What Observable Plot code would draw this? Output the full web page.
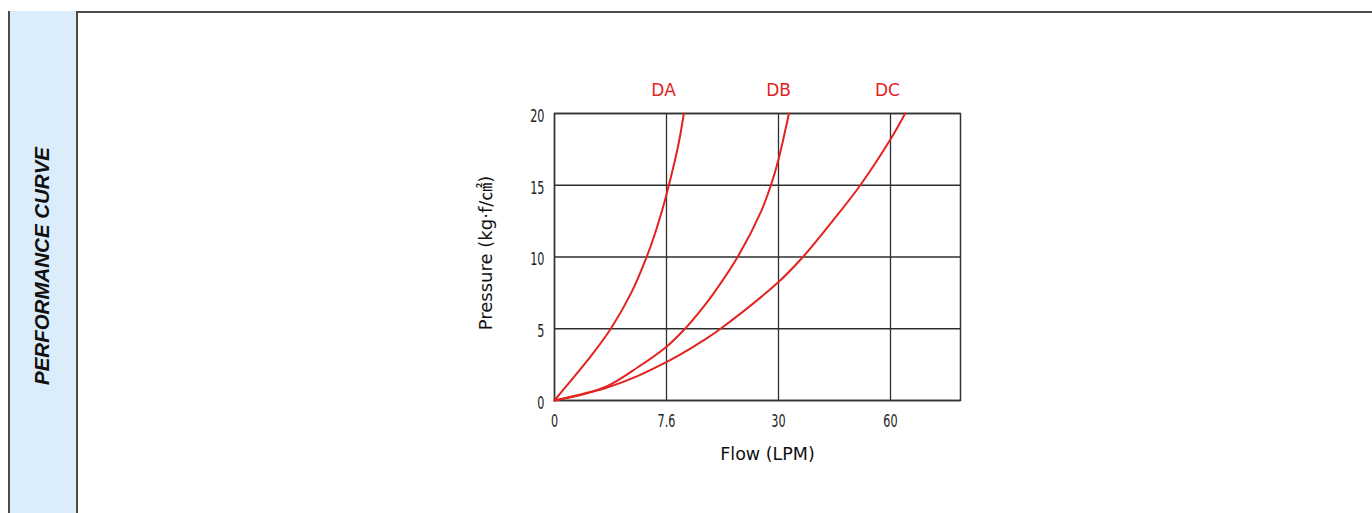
<!DOCTYPE html>
<html>
<head>
<meta charset="utf-8">
<script src="https://cdn.jsdelivr.net/npm/d3@7"></script>
<script src="https://cdn.jsdelivr.net/npm/@observablehq/plot@0.6"></script>
<style>
  html, body { margin: 0; padding: 0; background: #fff; }
  #wrap { position: relative; width: 1372px; height: 513px; overflow: hidden; }
  #topline { position: absolute; left: 8px; top: 11px; width: 1364px; height: 2px; background: #4e4c46; }
  #panel { position: absolute; left: 8px; top: 11px; width: 66px; height: 520px; background: #dbedfb;
           border-left: 2px solid #4e4c46; border-right: 2px solid #4e4c46; }
  #ptitle { position: absolute; left: 42px; top: 266px; transform: translate(-50%, -50%) rotate(-90deg);
            font-family: "Liberation Sans", Arial, sans-serif; font-weight: bold; font-style: italic;
            font-size: 20.5px; color: #111; white-space: nowrap; }
  #chart { position: absolute; left: 0; top: 0; }
</style>
</head>
<body>
<div id="wrap">
  <div id="topline"></div>
  <div id="panel"></div>
  <div id="ptitle">PERFORMANCE CURVE</div>
  <div id="chart"></div>
</div>
<script>
// ---- data ----
const flowTicks = [0, 7.6, 30, 60];
const flowBreaks = [0, 7.6, 30, 60, 78.75];   // axis breakpoints (equally spaced on the chart), last = right edge
const flowSteps = [0, 1, 2, 3, 3.625];        // relative position of each breakpoint
const pressureTicks = [0, 5, 10, 15, 20];
const seriesNames = ["DA", "DB", "DC"];
const labelFlow = [7.4, 30, 59.2];

const daFlow = [0, 1.0, 2.51, 3.82, 5.23, 6.27, 6.76, 7.29, 7.6, 9.93, 11.07];
const daPressure = [0, 1.25, 3.15, 5, 7.55, 10.05, 11.45, 13.2, 14.35, 17.75, 20];

const dbFlow = [0, 1.9, 3.57, 5.63, 7.6, 11.3, 15.15, 17.21, 22.0, 26.55, 28.48, 30, 32.79];
const dbPressure = [0, 0.45, 1.0, 2.3, 3.75, 5, 6.6, 7.55, 10.1, 13.2, 15, 16.8, 20];

const dcFlow = [0, 1.9, 3.57, 5.63, 7.6, 10.33, 15.15, 18.49, 30, 36.54, 44.31, 51.9, 60, 63.93];
const dcPressure = [0, 0.42, 0.9, 1.7, 2.68, 3.19, 4.22, 5.02, 8.26, 10, 12.45, 15, 18.2, 20];

// ---- build table ----
const seriesFlow = [daFlow, dbFlow, dcFlow];
const seriesPressure = [daPressure, dbPressure, dcPressure];
const rows = seriesNames.flatMap((name, i) =>
  seriesFlow[i].map((f, j) => ({series: name, flow: f, pressure: seriesPressure[i][j]})));
const labels = seriesNames.map((name, i) => ({series: name, flow: labelFlow[i], pressure: 20}));

// piecewise (broken) flow axis: 0, 7.6, 30, 60 equally spaced
const flowToStep = d3.scaleLinear().domain(flowBreaks).range(flowSteps);

const red = "#e2231f";
const gridColor = "#2e2e2e";
const sans = "'DejaVu Sans', Verdana, sans-serif";

const chart = Plot.plot({
  width: 1372,
  height: 513,
  marginLeft: 554,
  marginRight: 412,
  marginTop: 113,
  marginBottom: 113,
  style: {fontFamily: sans, fontSize: "17px", background: "transparent", color: "#222"},
  x: {transform: flowToStep, domain: [flowSteps[0], flowSteps[flowSteps.length - 1]], axis: null},
  y: {domain: [0, 20], axis: null},
  marks: [
    Plot.ruleX(flowTicks, {stroke: gridColor, strokeWidth: 1.3}),
    Plot.ruleY(pressureTicks, {stroke: gridColor, strokeWidth: 1.3}),
    Plot.frame({stroke: "#333", strokeWidth: 1.5}),
    Plot.line(rows, {x: "flow", y: "pressure", z: "series", stroke: red, strokeWidth: 2, curve: "catmull-rom"}),
    Plot.text(pressureTicks, {y: d => d, frameAnchor: "left", textAnchor: "end", dx: -10, dy: 3, fill: "#222"}),
    Plot.text(flowTicks, {x: d => d, frameAnchor: "bottom", lineAnchor: "top", dy: 14, fill: "#222"}),
    Plot.text(labels, {x: "flow", y: "pressure", text: "series", dy: -23, fill: red, fontSize: 17}),
    Plot.text(["Flow (LPM)"], {frameAnchor: "bottom", textAnchor: "middle", lineAnchor: "middle",
      dx: 10, dy: 54, fontSize: 17.5, fill: "#111"}),
    Plot.text(["Pressure (kg·f/㎠)"], {frameAnchor: "left", textAnchor: "middle", lineAnchor: "middle",
      rotate: -90, dx: -68, dy: -4, fontSize: 18,
      fontFamily: "'DejaVu Sans', 'Noto Sans CJK JP', sans-serif", fill: "#111"})
  ]
});
// condensed look for the tick labels (first two text marks)
const textGroups = d3.select(chart).selectAll('g[aria-label="text"]').nodes();
textGroups.slice(0, 2).forEach(g => {
  d3.select(g).selectAll("text").each(function() {
    const t = this.getAttribute("transform") || "";
    this.setAttribute("transform", `${t} scale(0.66,1)`);
  });
});
document.getElementById("chart").appendChild(chart);
</script>
</body>
</html>
